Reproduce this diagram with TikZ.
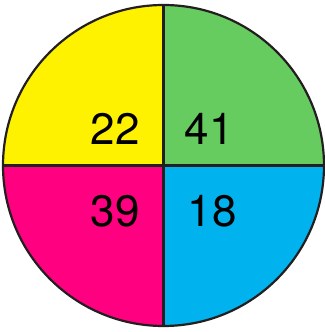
\documentclass[tikz,border=0pt]{standalone}
\usepackage{fontspec}
\setmainfont{TeX Gyre Heros}
\definecolor{qyellow}{HTML}{FFF200}
\definecolor{qgreen}{HTML}{66CC60}
\definecolor{qmagenta}{HTML}{FF0080}
\definecolor{qcyan}{HTML}{00B2EE}
\definecolor{qline}{HTML}{231F20}
\begin{document}
\begin{tikzpicture}[x=1pt,y=1pt,
  num/.style={inner sep=0pt,anchor=base,font=\fontsize{44}{44}\selectfont},
  edge/.style={draw=qline,line width=2.2pt}]
\useasboundingbox (0,0) rectangle (324,332);
\coordinate (c) at (163.5,166.5);
\def\R{160.5}
\fill[qgreen] (c) -- ++(0:\R) arc (0:90:\R) -- cycle;
\fill[qyellow] (c) -- ++(90:\R) arc (90:180:\R) -- cycle;
\fill[qmagenta] (c) -- ++(180:\R) arc (180:270:\R) -- cycle;
\fill[qcyan] (c) -- ++(270:\R) arc (270:360:\R) -- cycle;
\draw[edge] (c) circle (\R);
\draw[edge] (163.5,6) -- (163.5,327);
\draw[edge] (3,166.5) -- (324,166.5);
\node[num] (n22) at (115,187) {22};
\node[num] (n41) at (209,187) {41};
\node[num] (n39) at (115,105.5) {39};
\node[num] (n18) at (212,105.5) {18};
\end{tikzpicture}
\end{document}
